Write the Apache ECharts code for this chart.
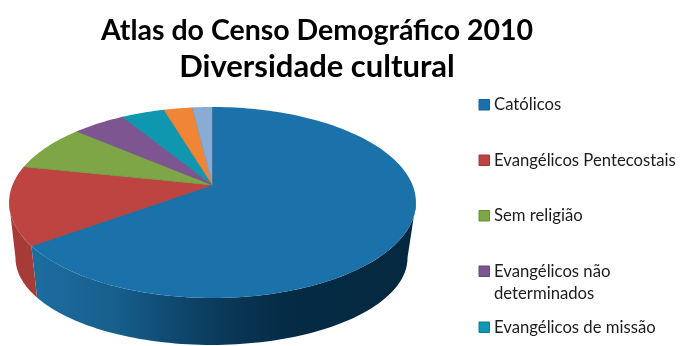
<!DOCTYPE html>
<html>
<head>
<meta charset="utf-8">
<style>html,body{margin:0;padding:0;background:#fff}#chart{width:680px;height:346px}</style>
<script src="https://cdn.jsdelivr.net/npm/echarts@6/dist/echarts.min.js"></script>
</head>
<body>
<div id="chart"></div>
<script>
// Religião no Brasil, Censo 2010 (participação aproximada, %)
const categories = ['Católicos', 'Evangélicos Pentecostais', 'Sem religião', 'Evangélicos não\ndeterminados', 'Evangélicos de missão', 'Outras religiões', 'Espíritas'];
const shares = [64.9, 13.3, 8.0, 5.0, 4.1, 2.7, 1.9];
const colors = ['#1B72AA', '#BE4441', '#7FA646', '#7D5591', '#0E97AF', '#F08536', '#8AABD3'];
const borders = ['#175F8E', '#9F3936', '#6A8B3A', '#684779', '#0C7E92', '#C86F2D', '#7390B0'];
const titleLines = ['Atlas do Censo Demográfico 2010', 'Diversidade cultural'];
const legendCount = 5;

// Perspective projection of a disc seen from the front
const tilt = -0.183;
const topFace = { cx: 212.5, cy: 185, a: 200, b: 92.3 };
const baseFace = { cx: 211.5, cy: 242, a: 192.7, b: 84.1 };
// Angles (degrees, clockwise from 12 o'clock) between which the side wall faces the viewer
const wallFrom = 100.5, wallTo = 259.5;

function project(face, deg) {
  const t = deg * Math.PI / 180;
  const u = Math.sin(t), v = -Math.cos(t);
  const w = 1 + tilt * v;
  return [face.cx + face.a * u / w, face.cy + face.b * v / w];
}
function arc(face, from, to) {
  const n = Math.max(2, Math.ceil((to - from) / 1.5));
  const pts = [];
  for (let i = 0; i <= n; i++) pts.push(project(face, from + (to - from) * i / n));
  return pts;
}

const total = shares.reduce((s, v) => s + v, 0);
const starts = [];
shares.reduce((s, v, i) => (starts[i] = s, s + v), 0);

const wallFill = [
  new echarts.graphic.LinearGradient(32, 0, 410, 0, [
    { offset: 0, color: '#1D6DA1' }, { offset: 0.22, color: '#175F8C' },
    { offset: 0.365, color: '#0F4A71' }, { offset: 0.524, color: '#0A3755' },
    { offset: 0.68, color: '#052B45' }, { offset: 1, color: '#04283F' }
  ], true),
  new echarts.graphic.LinearGradient(12, 0, 36, 0, [
    { offset: 0, color: '#A53A37' }, { offset: 1, color: '#A83C39' }
  ], true)
];

function renderSlice(params, api) {
  const i = params.dataIndex;
  const from = starts[i] / total * 360;
  const to = from + api.value(0) / total * 360;
  const children = [];
  const rim = arc(topFace, from, to);
  const wFrom = Math.max(from, wallFrom), wTo = Math.min(to, wallTo);
  if (wTo > wFrom) {
    children.push({
      type: 'polygon', z2: 1,
      shape: { points: arc(topFace, wFrom, wTo).concat(arc(baseFace, wFrom, wTo).reverse()) },
      style: { fill: wallFill[i] || borders[i] }
    });
  }
  const apex = [topFace.cx, topFace.cy];
  children.push({
    type: 'polygon', z2: 10,
    shape: { points: [apex].concat(rim) },
    style: { fill: colors[i] }
  });
  children.push({
    type: 'polyline', z2: 11,
    shape: { points: [rim[0], apex] },
    style: { fill: 'none', stroke: borders[i], lineWidth: 0.7 }
  });
  return { type: 'group', children };
}

const legendRows = [105, 160.5, 216, 271.5, 327.5];
const legendGraphics = [];
categories.slice(0, legendCount).forEach((name, i) => {
  const y = legendRows[i];
  name.split('\n').forEach((line, k) => legendGraphics.push({
    type: 'text', x: 494, y: y + k * 22.5,
    style: { text: line, fill: '#1c1c1c', font: '16.7px Lato', verticalAlign: 'middle', align: 'left' }
  }));
  legendGraphics.push({
    type: 'rect',
    shape: { x: 479, y: y - 5.5, width: 10.5, height: 10.5 },
    style: { fill: colors[i], stroke: borders[i], lineWidth: 1 }
  });
});

const chart = echarts.init(document.getElementById('chart'), null, { renderer: 'canvas' });
chart.setOption({
  animation: false,
  backgroundColor: '#fff',
  title: {
    text: '{a|' + titleLines[0] + '}\n{b|' + titleLines[1] + '}',
    left: 312, top: 8,
    textAlign: 'center',
    textStyle: {
      rich: {
        a: { fontFamily: 'Lato', fontWeight: 'bold', fontSize: 28.5, lineHeight: 36, color: '#000' },
        b: { fontFamily: 'Lato', fontWeight: 'bold', fontSize: 31, lineHeight: 36, color: '#000' }
      }
    }
  },
  graphic: legendGraphics,
  series: [{
    type: 'custom',
    coordinateSystem: 'none',
    renderItem: renderSlice,
    silent: true,
    data: shares.map(v => [v])
  }]
});
</script>
</body>
</html>
